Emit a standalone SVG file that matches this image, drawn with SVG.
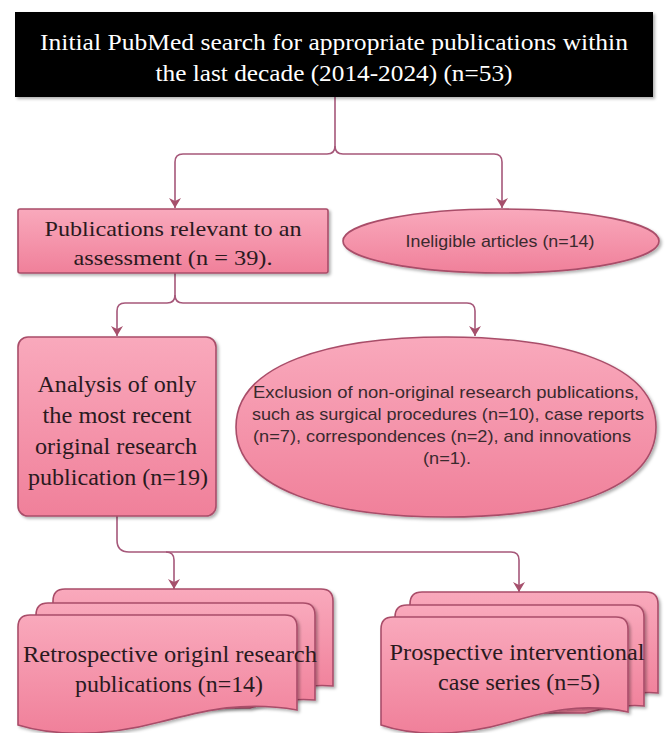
<svg xmlns="http://www.w3.org/2000/svg" width="665" height="733" viewBox="0 0 665 733">
  <defs>
    <linearGradient id="pink" x1="0" y1="0" x2="0" y2="1">
      <stop offset="0" stop-color="#f9a9bc"/>
      <stop offset="1" stop-color="#f0809a"/>
    </linearGradient>
    <filter id="sh" x="-5%" y="-5%" width="115%" height="120%">
      <feDropShadow dx="2" dy="2" stdDeviation="1.5" flood-color="#000" flood-opacity="0.3"/>
    </filter>
    <marker id="arr" viewBox="0 0 12 12" refX="11" refY="6" markerWidth="12" markerHeight="12" markerUnits="userSpaceOnUse" orient="auto">
      <path d="M1,0 L11,6 L1,12 L4,6 Z" fill="#a6506c"/>
    </marker>
  </defs>
  <style>
    .shape { fill: url(#pink); stroke: #a94d69; stroke-width: 1.6; }
    .conn { fill: none; stroke: #a6587a; stroke-width: 1.6; }
    .serif { font-family: "Liberation Serif", "Times New Roman", serif; fill: #2a1a1e; text-anchor: middle; }
    .sans { font-family: "Liberation Sans", Arial, sans-serif; fill: #3a2a2e; text-anchor: middle; }
  </style>

  <g id="connectors">
    <path class="conn" d="M335,97 V146 Q335,154 327,154 H183 Q175,154 175,162 V208" marker-end="url(#arr)"/>
    <path class="conn" d="M335,146 Q335,154 343,154 H494 Q502,154 502,162 V208" marker-end="url(#arr)"/>
    <path class="conn" d="M175,273 V295 Q175,303 167,303 H125 Q117,303 117,311 V336" marker-end="url(#arr)"/>
    <path class="conn" d="M175,295 Q175,303 183,303 H467 Q475,303 475,311 V336" marker-end="url(#arr)"/>
    <path class="conn" d="M117,516 V540 Q117,552 129,552 H166 Q174,552 174,560 V589" marker-end="url(#arr)"/>
    <path class="conn" d="M166,552 H511 Q519,552 519,560 V592" marker-end="url(#arr)"/>
  </g>

  <g id="n-search">
    <rect x="15" y="12" width="638" height="85" fill="#000" filter="url(#sh)"/>
    <text class="serif" x="334" y="50" font-size="23" style="fill:#fff" textLength="588" lengthAdjust="spacingAndGlyphs">Initial PubMed search for appropriate publications within</text>
    <text class="serif" x="334" y="81" font-size="23" style="fill:#fff" textLength="357" lengthAdjust="spacingAndGlyphs">the last decade (2014-2024) (n=53)</text>
  </g>

  <g id="n-relevant">
    <rect class="shape" x="18" y="209" width="310" height="64" rx="2" filter="url(#sh)"/>
    <text class="serif" x="173" y="236" font-size="22" textLength="257" lengthAdjust="spacingAndGlyphs">Publications relevant to an</text>
    <text class="serif" x="173" y="265" font-size="22" textLength="199" lengthAdjust="spacingAndGlyphs">assessment (n = 39).</text>
  </g>

  <g id="n-ineligible">
    <ellipse class="shape" cx="501" cy="241" rx="158" ry="32" filter="url(#sh)"/>
    <text class="sans" x="500" y="247" font-size="17" textLength="189" lengthAdjust="spacingAndGlyphs">Ineligible articles (n=14)</text>
  </g>

  <g id="n-analysis">
    <rect class="shape" x="18" y="337" width="198" height="179" rx="10" filter="url(#sh)"/>
    <text class="serif" x="117" y="392" font-size="23" textLength="159" lengthAdjust="spacingAndGlyphs">Analysis of only</text>
    <text class="serif" x="117" y="423" font-size="23" textLength="149" lengthAdjust="spacingAndGlyphs">the most recent</text>
    <text class="serif" x="116" y="454" font-size="23" textLength="162" lengthAdjust="spacingAndGlyphs">original research</text>
    <text class="serif" x="118" y="485" font-size="23" textLength="180" lengthAdjust="spacingAndGlyphs">publication (n=19)</text>
  </g>

  <g id="n-exclusion">
    <path class="shape" d="M236,427 C236,364 330,337 446,337 C562,337 656,364 656,427 C656,490 562,517 446,517 C330,517 236,490 236,427 Z" filter="url(#sh)"/>
    <text class="sans" x="446" y="398" font-size="17" textLength="386" lengthAdjust="spacingAndGlyphs">Exclusion of non-original research publications,</text>
    <text class="sans" x="448" y="420" font-size="17" textLength="392" lengthAdjust="spacingAndGlyphs">such as surgical procedures (n=10), case reports</text>
    <text class="sans" x="442" y="442" font-size="17" textLength="378" lengthAdjust="spacingAndGlyphs">(n=7), correspondences (n=2), and innovations</text>
    <text class="sans" x="447" y="464" font-size="17" textLength="48" lengthAdjust="spacingAndGlyphs">(n=1).</text>
  </g>

  <g id="n-retro">
    <path class="shape" d="M53,601 Q53,589 65,589 H321 Q333,589 333,601 V686 C310,684 290,688 270,694 L53,694 Z" filter="url(#sh)"/>
    <path class="shape" d="M36,615 Q36,603 48,603 H303 Q315,603 315,615 V700 C290,698 270,702 250,708 L36,708 Z" filter="url(#sh)"/>
    <path class="shape" d="M18,627 Q18,615 30,615 H285 Q297,615 297,627 V710 C240,700 200,712 160,722 C100,738 50,735 18,725 Z" filter="url(#sh)"/>
    <text class="serif" x="170" y="662" font-size="22.5" textLength="294" lengthAdjust="spacingAndGlyphs">Retrospective originl research</text>
    <text class="serif" x="169" y="692" font-size="22.5" textLength="188" lengthAdjust="spacingAndGlyphs">publications (n=14)</text>
  </g>

  <g id="n-prospective">
    <path class="shape" d="M410,604 Q410,592 422,592 H646 Q658,592 658,604 V693 C640,691 620,695 600,700 L410,700 Z" filter="url(#sh)"/>
    <path class="shape" d="M395,617 Q395,605 407,605 H632 Q644,605 644,617 V706 C625,704 605,708 585,713 L395,713 Z" filter="url(#sh)"/>
    <path class="shape" d="M381,629 Q381,617 393,617 H616 Q628,617 628,629 V712 C580,702 545,712 510,722 C455,738 410,735 381,725 Z" filter="url(#sh)"/>
    <text class="serif" x="517" y="660" font-size="22.5" textLength="255" lengthAdjust="spacingAndGlyphs">Prospective interventional</text>
    <text class="serif" x="519" y="690" font-size="22.5" textLength="162" lengthAdjust="spacingAndGlyphs">case series (n=5)</text>
  </g>
</svg>
